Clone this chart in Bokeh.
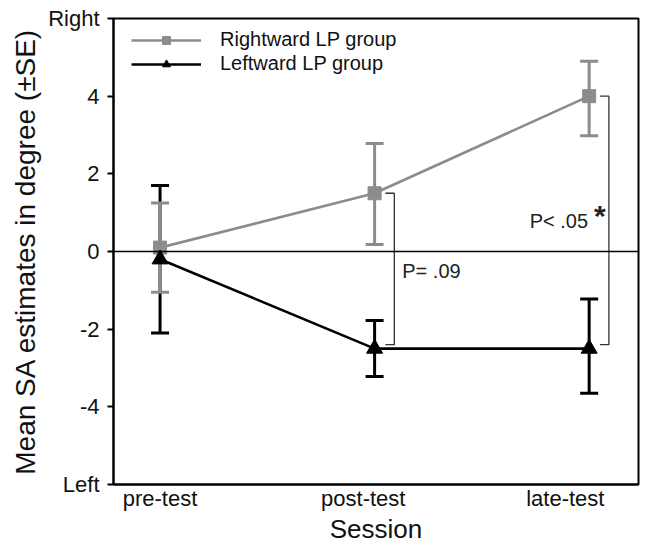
from bokeh.plotting import figure
from bokeh.models import (ColumnDataSource, Whisker, Span, Legend, LegendItem,
                          FixedTicker, Range1d, Label)
from bokeh.embed import file_html
from bokeh.resources import INLINE

sessions = ["pre-test", "post-test", "late-test"]
x_idx = [0, 1, 2]
# where the session names sit under the axis (as in the original figure)
session_label_pos = [0.0, 0.947, 1.889]

right_mean = [0.1, 1.5, 4.0]
right_upper = [1.25, 2.78, 4.9]
right_lower = [-1.05, 0.18, 2.98]

left_mean = [-0.2, -2.5, -2.5]
left_upper = [1.7, -1.78, -1.22]
left_lower = [-2.1, -3.22, -3.65]

y_ticks = [-6, -4, -2, 0, 2, 4, 6]
y_tick_labels = ["Left", "-4", "-2", "0", "2", "4", "Right"]

FONT = "Liberation Sans"
GRAY = "#8c8c8c"

p = figure(frame_width=525, frame_height=466, output_backend="svg",
           toolbar_location=None, x_range=Range1d(-0.217, 2.23),
           y_range=Range1d(-6, 6), min_border_left=113, min_border_right=4,
           min_border_top=18, min_border_bottom=49)
p.xgrid.visible = False
p.ygrid.visible = False
p.outline_line_color = "black"
p.outline_line_width = 2
p.background_fill_color = "white"

# axes
p.xaxis.ticker = FixedTicker(ticks=session_label_pos)
p.xaxis.major_label_overrides = {pos: s for pos, s in zip(session_label_pos, sessions)}
p.xaxis.major_tick_out = 0
p.xaxis.major_tick_in = 0
p.xaxis.minor_tick_out = 0
p.xaxis.minor_tick_in = 0
p.xaxis.major_label_standoff = 1
p.xaxis.axis_label = "Session"
p.xaxis.axis_label_standoff = 0
p.xaxis.axis_line_width = 2

p.yaxis.ticker = FixedTicker(ticks=y_ticks)
p.yaxis.major_label_overrides = {t: s for t, s in zip(y_ticks, y_tick_labels)}
p.yaxis.major_tick_out = 6
p.yaxis.major_tick_in = 0
p.yaxis.minor_tick_out = 0
p.yaxis.minor_tick_in = 0
p.yaxis.major_tick_line_width = 2
p.yaxis.major_label_standoff = 8
p.yaxis.axis_label = "Mean SA estimates in degree (\u00b1SE)"
p.yaxis.axis_label_standoff = 4
p.yaxis.axis_line_width = 2

for ax in (p.xaxis[0], p.yaxis[0]):
    ax.major_label_text_font = FONT
    ax.major_label_text_font_size = "22px"
    ax.major_label_text_color = "#111111"
    ax.axis_label_text_font = FONT
    ax.axis_label_text_font_style = "normal"
    ax.axis_label_text_color = "#111111"
    ax.axis_line_color = "black"
    ax.major_tick_line_color = "black"
p.xaxis.axis_label_text_font_size = "26px"
p.yaxis.axis_label_text_font_size = "28px"

p.add_layout(Span(location=0, dimension="width", line_color="black", line_width=1.6))

src_r = ColumnDataSource(dict(x=x_idx, y=right_mean, up=right_upper, lo=right_lower))
src_l = ColumnDataSource(dict(x=x_idx, y=left_mean, up=left_upper, lo=left_lower))

wl = Whisker(source=src_l, base="x", upper="up", lower="lo",
             line_color="black", line_width=3)
wr = Whisker(source=src_r, base="x", upper="up", lower="lo",
             line_color=GRAY, line_width=3)
for w, c in ((wl, "black"), (wr, GRAY)):
    for h in (w.upper_head, w.lower_head):
        h.size = 18
        h.line_color = c
        h.line_width = 3
p.add_layout(wl)
p.add_layout(wr)

lr = p.line("x", "y", source=src_r, line_color=GRAY, line_width=2.6)
ll = p.line("x", "y", source=src_l, line_color="black", line_width=2.6)
mr = p.scatter("x", "y", source=src_r, marker="square", size=13,
               fill_color=GRAY, line_color=GRAY)
ml = p.scatter("x", "y", source=src_l, marker="triangle", size=16,
               fill_color="black", line_color="black")

# significance brackets
br_off = 0.092
tick_off = 0.05
for i in (1, 2):
    top = right_mean[i]
    bot = left_mean[i] + 0.1
    xb = x_idx[i] + br_off
    xt = x_idx[i] + tick_off
    p.line([xt, xb, xb, xt], [top, top, bot, bot], line_color="#333333", line_width=1.3)

p.add_layout(Label(x=x_idx[1] + 0.129, y=-0.51, text="P= .09", text_font=FONT,
                   text_font_size="20px", text_color="#222222", text_baseline="middle"))
p.add_layout(Label(x=x_idx[2] - 0.277, y=0.79, text="P< .05", text_font=FONT,
                   text_font_size="20px", text_color="#222222", text_baseline="middle"))
p.add_layout(Label(x=x_idx[2] + 0.05, y=0.93, text="*", text_font=FONT,
                   text_font_size="30px", text_font_style="bold", text_color="#222222",
                   text_align="center", text_baseline="middle"))

legend = Legend(items=[LegendItem(label="Rightward LP group", renderers=[lr, mr]),
                       LegendItem(label="Leftward LP group", renderers=[ll, ml])],
                location=(18, 409), margin=0, padding=0, spacing=1,
                glyph_width=70, glyph_height=20, label_height=20, label_standoff=19,
                label_text_font=FONT, label_text_font_size="20px",
                label_text_color="#111111", border_line_color=None,
                background_fill_alpha=0)
p.add_layout(legend)

open("out.html", "w").write(file_html(p, INLINE))
